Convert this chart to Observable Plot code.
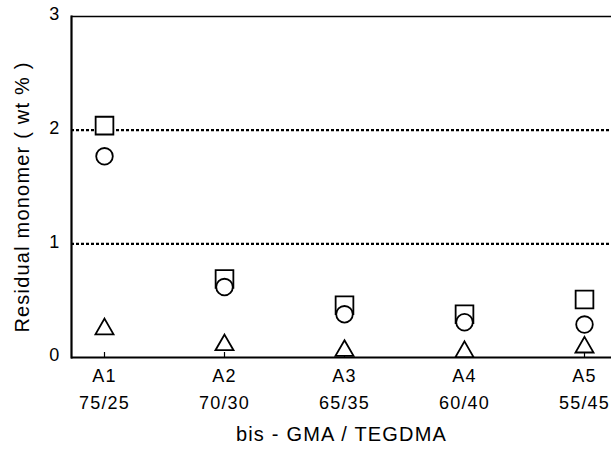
<!DOCTYPE html>
<html>
<head>
<meta charset="utf-8">
<script src="https://cdn.jsdelivr.net/npm/d3@7"></script>
<script src="https://cdn.jsdelivr.net/npm/@observablehq/plot@0.6"></script>
<style>
  html, body { margin: 0; padding: 0; background: #fff; }
  svg { display: block; }
  svg text { letter-spacing: 1.2px; }
</style>
</head>
<body>
<div id="chart"></div>
<script>
// Resin formulations and their bis-GMA / TEGDMA ratios
const groups = ["A1", "A2", "A3", "A4", "A5"];
const ratios = ["75/25", "70/30", "65/35", "60/40", "55/45"];

// Residual monomer (wt %) for the three series
const squareVals = [2.04, 0.69, 0.46, 0.38, 0.51];
const circleVals = [1.77, 0.62, 0.38, 0.31, 0.29];
const triangleVals = [0.25, 0.11, 0.06, 0.05, 0.09];

const yTicks = [0, 1, 2, 3];
const gridVals = [1, 2];

const rows = (vals) => groups.map((g, i) => ({group: g, value: vals[i]}));

const font = "'Liberation Sans', Arial, Helvetica, sans-serif";

const chart = Plot.plot({
  width: 611,
  height: 455,
  marginLeft: 71,
  marginRight: 0,
  marginTop: 16,
  marginBottom: 98,
  style: {fontFamily: font, fontSize: "18px", color: "#000", background: "#fff"},
  x: {type: "point", domain: groups, range: [104, 584], padding: 0, axis: null},
  y: {domain: [0, 3], axis: null},
  marks: [
    // dotted reference lines
    Plot.ruleY(gridVals, {stroke: "#000", strokeWidth: 2.2, strokeDasharray: "3,2"}),
    // frame: top, bottom and left lines
    Plot.ruleY([3], {stroke: "#000", strokeWidth: 1.5}),
    Plot.ruleY([0], {stroke: "#000", strokeWidth: 2.2}),
    Plot.frame({anchor: "left", stroke: "#000", strokeWidth: 2.2}),
    // small inward ticks on the x axis
    Plot.ruleX(groups, {x: d => d, y1: 0, y2: 0, insetBottom: 5, stroke: "#000", strokeWidth: 1.2}),
    // y tick labels
    Plot.text(yTicks, {y: d => d, text: d => String(d), frameAnchor: "left", textAnchor: "end", dx: -11, dy: -2, fontSize: 18}),
    // x labels: group name and ratio
    Plot.text(groups, {x: d => d, text: d => d, frameAnchor: "bottom", dy: 24, fontSize: 18}),
    Plot.text(ratios, {x: (d, i) => groups[i], text: d => d, frameAnchor: "bottom", dy: 51, fontSize: 18}),
    // axis titles
    Plot.text(["bis - GMA / TEGDMA"], {frameAnchor: "bottom", dy: 83, fontSize: 20}),
    Plot.text(["Residual monomer ( wt % )"], {frameAnchor: "left", textAnchor: "middle", rotate: -90, dx: -49, dy: 10, fontSize: 20}),
    // data series
    Plot.dot(rows(triangleVals), {x: "group", y: "value", symbol: "triangle", r: 6.7, stroke: "#000", strokeWidth: 1.8, fill: "#fff"}),
    Plot.dot(rows(squareVals), {x: "group", y: "value", symbol: "square", r: 10, stroke: "#000", strokeWidth: 1.8, fill: "#fff"}),
    Plot.dot(rows(circleVals), {x: "group", y: "value", symbol: "circle", r: 8.3, stroke: "#000", strokeWidth: 1.8, fill: "#fff"})
  ]
});

document.getElementById("chart").appendChild(chart);
</script>
</body>
</html>
